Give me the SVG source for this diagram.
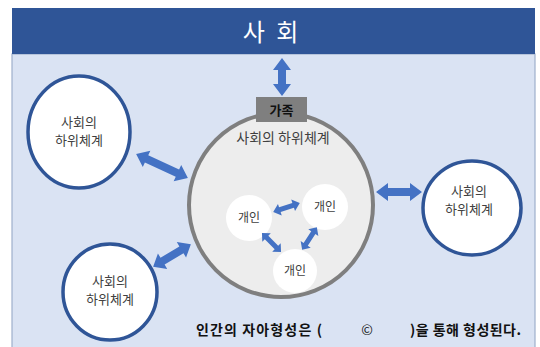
<svg xmlns="http://www.w3.org/2000/svg" width="540" height="347" viewBox="0 0 540 347">
<style>
.t{font-family:"Noto Sans CJK KR","Liberation Sans",sans-serif;fill:#404040;}
.sub{fill:#fff;stroke:#2f5597;stroke-width:3.5;}
.ind{fill:#fff;stroke:none;}
.arr{fill:#4472c4;}
</style>
<rect x="0" y="0" width="540" height="347" fill="#fff"/>
<g id="panel">
<rect x="12" y="54" width="523" height="300" fill="#dae3f3" stroke="#9fb0cc" stroke-width="1.2"/>
<rect x="12" y="8" width="523" height="46" fill="#2f5597"/>
<text x="272" y="41" text-anchor="middle" class="t" style="fill:#fff;font-size:24px;" letter-spacing="3">사 회</text>
</g>
<g id="main">
<circle cx="281" cy="205" r="92" fill="#ededed" stroke="#7f7f7f" stroke-width="4"/>
<text x="283" y="143" text-anchor="middle" class="t" font-size="14">사회의 하위체계</text>
</g>
<g id="family">
<rect x="256" y="97" width="51" height="25" fill="#7f7f7f"/>
<text x="281.5" y="115" text-anchor="middle" class="t" style="fill:#111;font-weight:bold;font-size:13px;">가족</text>
</g>
<g id="sub1">
<ellipse cx="79" cy="132" rx="51" ry="56" class="sub"/>
<text x="79" y="127" text-anchor="middle" class="t" font-size="13">사회의</text>
<text x="79" y="145" text-anchor="middle" class="t" font-size="13">하위체계</text>
</g>
<g id="sub2">
<ellipse cx="110" cy="292" rx="47" ry="48" class="sub"/>
<text x="110" y="286" text-anchor="middle" class="t" font-size="13">사회의</text>
<text x="110" y="304" text-anchor="middle" class="t" font-size="13">하위체계</text>
</g>
<g id="sub3">
<ellipse cx="472" cy="208" rx="49" ry="47" class="sub"/>
<text x="469" y="196" text-anchor="middle" class="t" font-size="13">사회의</text>
<text x="469" y="214" text-anchor="middle" class="t" font-size="13">하위체계</text>
</g>
<g id="ind1">
<circle cx="249" cy="218" r="23" class="ind"/>
<text x="249" y="222" text-anchor="middle" class="t" font-size="12">개인</text>
</g>
<g id="ind2">
<circle cx="325" cy="207" r="23" class="ind"/>
<text x="325" y="211" text-anchor="middle" class="t" font-size="12">개인</text>
</g>
<g id="ind3">
<circle cx="295" cy="271" r="22" class="ind"/>
<text x="295" y="275" text-anchor="middle" class="t" font-size="12">개인</text>
</g>
<g id="connectors" class="arr">
<polygon transform="translate(282,77) rotate(90)" points="-19,0 -7,-9 -7,-4 7,-4 7,-9 19,0 7,9 7,4 -7,4 -7,9"/>
<polygon transform="translate(399,192)" points="-23,0 -11,-9 -11,-4 11,-4 11,-9 23,0 11,9 11,4 -11,4 -11,9"/>
<polygon transform="translate(162,166) rotate(24.8)" points="-28.5,0 -17,-9 -17,-4 17,-4 17,-9 28.5,0 17,9 17,4 -17,4 -17,9"/>
<polygon transform="translate(172,255.5) rotate(-31)" points="-22,0 -11,-9 -11,-4 11,-4 11,-9 22,0 11,9 11,4 -11,4 -11,9"/>
<polygon transform="translate(286.5,207.5) rotate(-18.4)" points="-14,0 -7,-6 -7,-2.5 7,-2.5 7,-6 14,0 7,6 7,2.5 -7,2.5 -7,6"/>
<polygon transform="translate(271.5,242.5) rotate(45)" points="-13.5,0 -7,-6 -7,-2.5 7,-2.5 7,-6 13.5,0 7,6 7,2.5 -7,2.5 -7,6"/>
<polygon transform="translate(309.5,238.5) rotate(123)" points="-13.5,0 -7,-6 -7,-2.5 7,-2.5 7,-6 13.5,0 7,6 7,2.5 -7,2.5 -7,6"/>
</g>
<g id="caption" class="t" style="fill:#111;font-weight:bold;font-size:14px;">
<text x="196" y="335" textLength="126" lengthAdjust="spacing">인간의 자아형성은 (</text>
<text x="367" y="335" text-anchor="middle" style="font-weight:normal">©</text>
<text x="410" y="335" textLength="111" lengthAdjust="spacing">)을 통해 형성된다.</text>
</g>
</svg>
